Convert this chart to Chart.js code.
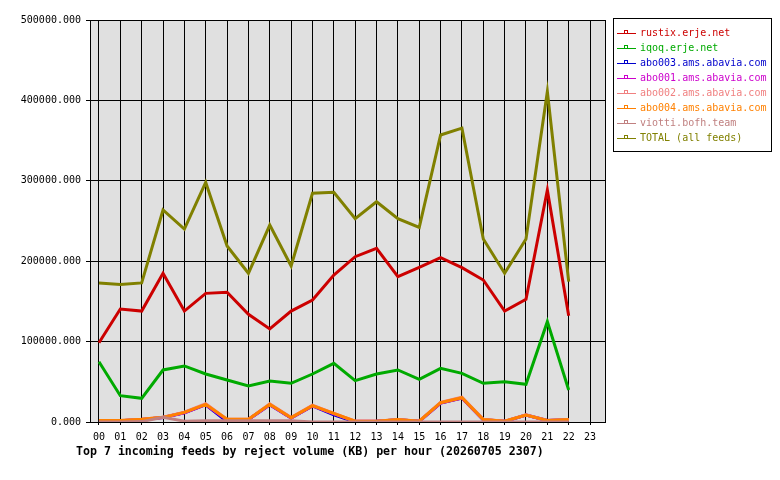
<!DOCTYPE html>
<html>
<head>
<meta charset="utf-8">
<script src="https://cdn.jsdelivr.net/npm/chart.js@4"></script>
<style>
  body { margin: 0; background: #fff; }
  canvas { display: block; }
</style>
</head>
<body>
<canvas id="c" width="780" height="480"></canvas>
<script>
// hours on the x axis
const hours = ['00','01','02','03','04','05','06','07','08','09','10','11',
               '12','13','14','15','16','17','18','19','20','21','22','23'];
const yTicks = [0, 100000, 200000, 300000, 400000, 500000];

const feedNames = ['rustix.erje.net', 'iqoq.erje.net', 'abo003.ams.abavia.com',
  'abo001.ams.abavia.com', 'abo002.ams.abavia.com', 'abo004.ams.abavia.com',
  'viotti.bofh.team', 'TOTAL (all feeds)'];
const feedColors = ['#cc0000', '#00aa00', '#0000cc', '#cc00cc',
  '#f08080', '#ff8000', '#c08080', '#808000'];

// KB per hour, 00..22 (no data for 23 yet)
const rustix = [98600, 140500, 138000, 185000, 138000, 160000, 161300, 134000, 115700, 138000, 151700, 182800,
  205600, 216000, 180700, 192400, 204400, 192000, 176600, 138000, 152600, 288500, 132200];
const iqoq = [75000, 32700, 29400, 64700, 69700, 59700, 52200, 44800, 51000, 48100, 59700, 73000,
  51400, 59700, 64700, 53100, 66800, 60500, 48100, 50100, 46900, 124800, 39800];
const abo003 = [1500, 1500, 3000, 5500, 11500, 21500, 500, 3000, 21500, 5000, 20000, 9000,
  0, 800, 2800, 800, 23500, 29800, 2800, 800, 8500, 1800, 2800];
const abo001 = [1500, 1500, 3000, 5500, 11500, 21500, 2500, 3000, 21500, 5000, 20000, 10000,
  800, 800, 2800, 800, 23500, 29800, 2800, 800, 8500, 1800, 2800];
const abo002 = [2000, 2000, 3300, 6000, 12200, 22800, 3300, 3300, 22500, 5600, 20800, 10800,
  1000, 1000, 3200, 1000, 24500, 30800, 3300, 1000, 8900, 2000, 3000];
const abo004 = [2000, 2000, 3300, 5800, 12000, 22000, 3300, 3300, 22000, 5400, 20300, 10800,
  1000, 1000, 3000, 1000, 24000, 30200, 3000, 1000, 8700, 2000, 3000];
const viotti = [0, 0, 500, 6000, 1000, 1500, 1500, 1500, 1500, 1500, 0, 0,
  0, 0, 0, 0, 0, 0, 0, 0, 0, 0, 0];
const total = [172900, 171000, 173000, 263700, 240000, 298000, 219000, 185000, 245000, 194000, 284500, 285700,
  253000, 274000, 253000, 242000, 357000, 365500, 227600, 185000, 227600, 411000, 174500];

const series = [rustix, iqoq, abo003, abo001, abo002, abo004, viotti, total];

const MONO = '"DejaVu Sans Mono", "Liberation Mono", monospace';

const frame = {
  id: 'frame',
  beforeDraw(chart) {
    const { ctx, chartArea: a } = chart;
    ctx.save();
    ctx.fillStyle = '#ffffff';
    ctx.fillRect(0, 0, chart.width, chart.height);
    ctx.fillStyle = '#e0e0e0';
    ctx.fillRect(a.left, a.top, a.right - a.left, a.bottom - a.top);
    ctx.restore();
  },
  afterDraw(chart) {
    const { ctx, chartArea: a } = chart;
    ctx.save();
    ctx.strokeStyle = '#000';
    ctx.lineWidth = 1;
    ctx.strokeRect(Math.round(a.left) + 0.5, Math.round(a.top) + 0.5,
      Math.round(a.right - a.left), Math.round(a.bottom - a.top));

    // legend box
    ctx.strokeRect(613.5, 18.5, 158, 133);
    ctx.font = '10px ' + MONO;
    ctx.textBaseline = 'middle';
    chart.data.datasets.forEach((ds, i) => {
      const y = 33 + i * 15;
      ctx.strokeStyle = ds.borderColor;
      ctx.lineWidth = 1;
      ctx.beginPath();
      ctx.moveTo(617, y + 0.5);
      ctx.lineTo(636, y + 0.5);
      ctx.stroke();
      ctx.strokeRect(624.5, y - 2.5, 3, 3);
      ctx.fillStyle = ds.borderColor;
      ctx.fillText(ds.label, 640, y);
    });

    // caption under the axis
    ctx.fillStyle = '#000';
    ctx.font = 'bold 11.6px ' + MONO;
    ctx.textBaseline = 'alphabetic';
    ctx.fillText('Top 7 incoming feeds by reject volume (KB) per hour (20260705 2307)', 76, 455);
    ctx.restore();
  }
};

new Chart(document.getElementById('c'), {
  type: 'line',
  data: {
    datasets: series.map((vals, i) => ({
      label: feedNames[i],
      data: vals.map((v, h) => ({ x: h, y: v })),
      borderColor: feedColors[i],
      backgroundColor: feedColors[i],
      borderWidth: 3,
      pointRadius: 0,
      tension: 0,
      order: series.length - i,
    })),
  },
  options: {
    responsive: false,
    animation: false,
    layout: { padding: { top: 20, right: 175, bottom: 0, left: 0 } },
    plugins: { legend: { display: false }, tooltip: { enabled: false } },
    scales: {
      x: {
        type: 'linear',
        min: -0.42,
        max: 23.7,
        afterBuildTicks: (axis) => { axis.ticks = hours.map((h, i) => ({ value: i })); },
        afterFit: (axis) => { axis.height = 58; },
        ticks: {
          autoSkip: false,
          maxRotation: 0,
          padding: 6,
          color: '#000',
          font: { family: MONO, size: 10 },
          callback: (v) => hours[v],
        },
        grid: { color: '#000', lineWidth: 1, tickLength: 3 },
        border: { color: '#000' },
      },
      y: {
        min: 0,
        max: 500000,
        afterBuildTicks: (axis) => { axis.ticks = yTicks.map(v => ({ value: v })); },
        afterFit: (axis) => { axis.width = 90; },
        ticks: {
          padding: 5,
          color: '#000',
          font: { family: MONO, size: 10 },
          callback: (v) => v.toFixed(3),
        },
        grid: { color: '#000', lineWidth: 1, tickLength: 4 },
        border: { color: '#000' },
      },
    },
  },
  plugins: [frame],
});
</script>
</body>
</html>
